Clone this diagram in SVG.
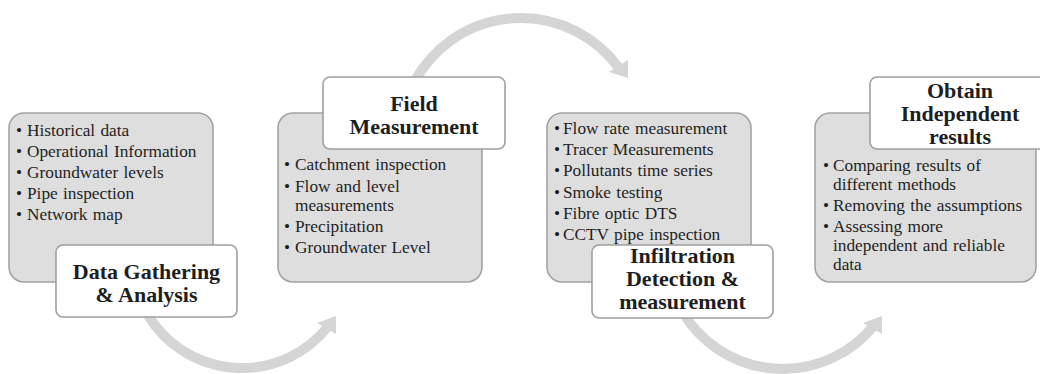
<svg xmlns="http://www.w3.org/2000/svg" width="1040" height="374" viewBox="0 0 1040 374">
<style>
.gbox{fill:#dedede;stroke:#a3a3a3;stroke-width:1.6}
.wbox{fill:#ffffff;stroke:#9f9f9f;stroke-width:1.6}
.body{font-family:"Liberation Serif","Times New Roman",serif;font-size:17.3px;fill:#1e1e1e;word-spacing:1px}
.title{font-family:"Liberation Serif","Times New Roman",serif;font-size:22px;font-weight:bold;fill:#1e1e1e;text-anchor:middle}
.arc{fill:none;stroke:#d5d5d5;stroke-width:10}
.head{fill:#d5d5d5}
</style>
<rect width="1040" height="374" fill="#ffffff"/>
<g id="connectors">
  <path class="arc" d="M 146.7 313 A 110 110 0 0 0 328.1 326.5"/>
  <polygon class="head" points="336,316 336,334 317,323"/>
  <path class="arc" d="M 414.2 82.2 A 121 121 0 0 1 618.9 67.9"/>
  <polygon class="head" points="628,60 628,78 609,72"/>
  <path class="arc" d="M 681.7 310.5 A 117 117 0 0 0 873.9 325.6"/>
  <polygon class="head" points="882,316 882,334 863,323"/>
</g>
<g id="node1">
  <rect class="gbox" x="9" y="113" width="204" height="169" rx="15"/>
  <text class="body"><tspan x="16" y="135.5">•</tspan><tspan x="27" y="135.5">Historical data</tspan></text>
  <text class="body"><tspan x="16" y="156.5">•</tspan><tspan x="27" y="156.5">Operational Information</tspan></text>
  <text class="body"><tspan x="16" y="177.5">•</tspan><tspan x="27" y="177.5">Groundwater levels</tspan></text>
  <text class="body"><tspan x="16" y="198.5">•</tspan><tspan x="27" y="198.5">Pipe inspection</tspan></text>
  <text class="body"><tspan x="16" y="219.5">•</tspan><tspan x="27" y="219.5">Network map</tspan></text>
  <rect class="wbox" x="56" y="245" width="181" height="72" rx="7"/>
  <text class="title"><tspan x="146.5" y="279">Data Gathering</tspan><tspan x="146.5" y="302">&amp; Analysis</tspan></text>
</g>
<g id="node2">
  <rect class="gbox" x="278" y="113" width="204" height="169" rx="15"/>
  <text class="body"><tspan x="284" y="170">•</tspan><tspan x="295" y="170">Catchment inspection</tspan></text>
  <text class="body"><tspan x="284" y="192">•</tspan><tspan x="295" y="192">Flow and level</tspan><tspan x="295" y="211">measurements</tspan></text>
  <text class="body"><tspan x="284" y="231.5">•</tspan><tspan x="295" y="231.5">Precipitation</tspan></text>
  <text class="body"><tspan x="284" y="252.5">•</tspan><tspan x="295" y="252.5">Groundwater Level</tspan></text>
  <rect class="wbox" x="323" y="77" width="182" height="72" rx="7"/>
  <text class="title"><tspan x="414" y="110.5">Field</tspan><tspan x="414" y="133.5">Measurement</tspan></text>
</g>
<g id="node3">
  <rect class="gbox" x="547" y="113" width="204" height="169" rx="15"/>
  <text class="body"><tspan x="554" y="134">•</tspan><tspan x="563" y="134">Flow rate measurement</tspan></text>
  <text class="body"><tspan x="554" y="155.2">•</tspan><tspan x="563" y="155.2">Tracer Measurements</tspan></text>
  <text class="body"><tspan x="554" y="176.4">•</tspan><tspan x="563" y="176.4">Pollutants time series</tspan></text>
  <text class="body"><tspan x="554" y="197.6">•</tspan><tspan x="563" y="197.6">Smoke testing</tspan></text>
  <text class="body"><tspan x="554" y="218.8">•</tspan><tspan x="563" y="218.8">Fibre optic DTS</tspan></text>
  <text class="body"><tspan x="554" y="240">•</tspan><tspan x="563" y="240">CCTV pipe inspection</tspan></text>
  <rect class="wbox" x="592" y="245" width="181" height="73" rx="7"/>
  <text class="title"><tspan x="682.5" y="262.5">Infiltration</tspan><tspan x="682.5" y="285.5">Detection &amp;</tspan><tspan x="682.5" y="308.5">measurement</tspan></text>
</g>
<g id="node4">
  <rect class="gbox" x="815" y="113" width="221" height="169" rx="15"/>
  <text class="body"><tspan x="823" y="170.5">•</tspan><tspan x="833" y="170.5">Comparing results of</tspan><tspan x="833" y="189.5">different methods</tspan></text>
  <text class="body"><tspan x="823" y="210.5">•</tspan><tspan x="833" y="210.5">Removing the assumptions</tspan></text>
  <text class="body"><tspan x="823" y="231.5">•</tspan><tspan x="833" y="231.5">Assessing more</tspan><tspan x="833" y="251">independent and reliable</tspan><tspan x="833" y="269.5">data</tspan></text>
  <rect class="wbox" x="870" y="77" width="182" height="72" rx="7"/>
  <text class="title"><tspan x="960" y="97.5">Obtain</tspan><tspan x="960" y="120.5">Independent</tspan><tspan x="960" y="143.5">results</tspan></text>
</g>
</svg>
